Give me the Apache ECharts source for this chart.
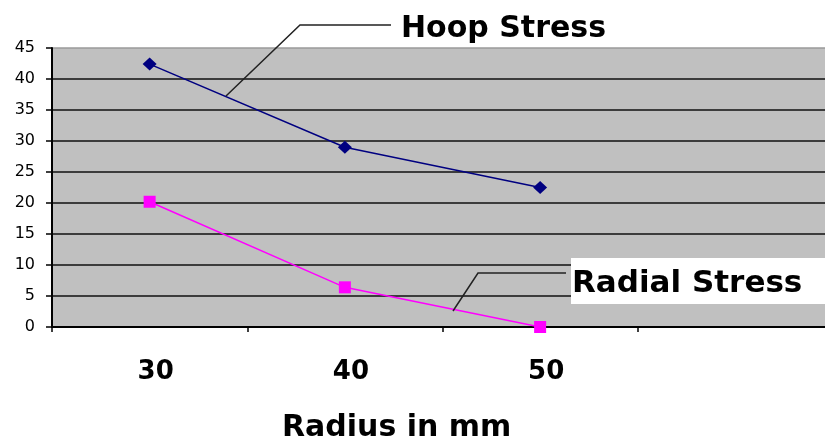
<!DOCTYPE html>
<html>
<head>
<meta charset="utf-8">
<script src="https://cdn.jsdelivr.net/npm/echarts@6/dist/echarts.min.js"></script>
<style>html,body{margin:0;padding:0;background:#fff;}#c{width:825px;height:442px;}</style>
</head>
<body>
<div id="c"></div>
<script>
var categories = ['30', '40', '50', ''];
var hoopStress = [42.4, 29.0, 22.5];
var radialStress = [20.2, 6.4, 0];
var yTicks = { min: 0, max: 45, interval: 5 };
var xTitle = 'Radius in mm';
var hoopLabel = 'Hoop Stress';
var radialLabel = 'Radial Stress';

var chart = echarts.init(document.getElementById('c'), null, { renderer: 'canvas' });
var splitColors = [];
for (var i = 0; i < 10; i++) splitColors.push(i === 9 ? '#9a9a9a' : '#111');

var bold = '"DejaVu Sans", sans-serif';
chart.setOption({
  animation: false,
  backgroundColor: '#fff',
  grid: { left: 52, width: 781, top: 48, height: 279, outerBoundsMode: 'none', containLabel: false, show: true, backgroundColor: '#c0c0c0', borderWidth: 0 },
  xAxis: {
    type: 'category',
    data: categories,
    boundaryGap: true,
    axisLine: { lineStyle: { color: '#000', width: 2 } },
    axisTick: { show: true, length: 5, interval: 0, lineStyle: { color: '#000', width: 1.5 } },
    axisLabel: { interval: 0, margin: 32, padding: [0, 0, 0, 12], color: '#000', fontFamily: bold, fontWeight: 'bold', fontSize: 26 },
    splitLine: { show: false }
  },
  yAxis: {
    type: 'value',
    min: yTicks.min, max: yTicks.max, interval: yTicks.interval,
    axisLine: { show: true, lineStyle: { color: '#000', width: 2 } },
    axisTick: { show: true, length: 6, lineStyle: { color: '#000', width: 1.5 } },
    axisLabel: { margin: 17, color: '#000', fontFamily: '"DejaVu Sans", sans-serif', fontSize: 16 },
    splitLine: { show: true, lineStyle: { color: splitColors, width: 1.5 } }
  },
  series: [
    {
      name: hoopLabel, type: 'line', data: hoopStress,
      symbol: 'diamond', symbolSize: [14, 13],
      lineStyle: { color: '#000080', width: 1.5 },
      itemStyle: { color: '#000080' }
    },
    {
      name: radialLabel, type: 'line', data: radialStress,
      symbol: 'rect', symbolSize: 12,
      lineStyle: { color: '#ff00ff', width: 1.5 },
      itemStyle: { color: '#ff00ff' }
    }
  ],
  graphic: [
    { type: 'polyline', shape: { points: [[226, 96], [300, 25], [391, 25]] }, style: { stroke: '#222', lineWidth: 1.5, fill: null }, z: 10 },
    { type: 'text', left: 401, top: 14, style: { text: hoopLabel, font: 'bold 30px "DejaVu Sans", sans-serif', fill: '#000' }, z: 10 },
    { type: 'rect', shape: { x: 571, y: 258, width: 260, height: 46 }, style: { fill: '#fff' }, z: 9 },
    { type: 'polyline', shape: { points: [[453, 311], [478, 273], [566, 273]] }, style: { stroke: '#222', lineWidth: 1.5, fill: null }, z: 10 },
    { type: 'text', left: 572, top: 268, style: { text: radialLabel, font: 'bold 31px "DejaVu Sans", sans-serif', fill: '#000' }, z: 10 },
    { type: 'text', left: 282, top: 413, style: { text: xTitle, font: 'bold 30px "DejaVu Sans", sans-serif', fill: '#000' }, z: 10 }
  ]
});
</script>
</body>
</html>
